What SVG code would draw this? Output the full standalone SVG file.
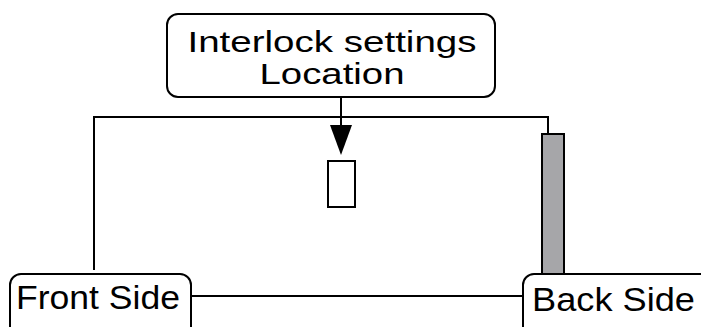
<svg xmlns="http://www.w3.org/2000/svg" width="701" height="327" viewBox="0 0 701 327">
<style>
.box{fill:#fff;stroke:#000;stroke-width:2}
.ln{fill:none;stroke:#000;stroke-width:2}
.t{font-family:"Liberation Sans","Noto Sans",sans-serif;font-size:33px;fill:#000}
.t2{font-family:"Liberation Sans","Noto Sans",sans-serif;font-size:29px;fill:#000}
</style>
<rect width="701" height="327" fill="#fff"/>
<g id="connectors">
<path class="ln" d="M94,270 V117 H548 V135"/>
<path class="ln" d="M191,296 H523"/>
<line x1="341" y1="97" x2="341" y2="125" class="ln"/>
<path d="M330,125 L352,125 L341,155 Z" fill="#000"/>
</g>
<g id="back-bar">
<rect x="542" y="134" width="22" height="140" fill="#a6a6a9" stroke="#000" stroke-width="2"/>
</g>
<g id="interlock-marker">
<rect x="328" y="161" width="27" height="46" class="box"/>
</g>
<g id="interlock-settings">
<rect x="167" y="14" width="328" height="83" rx="11" class="box"/>
<text class="t2" x="332" y="52" text-anchor="middle" textLength="289" lengthAdjust="spacingAndGlyphs">Interlock settings</text>
<text class="t2" x="332" y="84" text-anchor="middle" textLength="145" lengthAdjust="spacingAndGlyphs">Location</text>
</g>
<g id="front-side">
<rect x="10" y="274" width="181" height="70" rx="11" class="box"/>
<text class="t" x="16" y="309" textLength="164" lengthAdjust="spacingAndGlyphs">Front Side</text>
</g>
<g id="back-side">
<rect x="523" y="274" width="190" height="70" rx="11" class="box"/>
<text class="t" x="532" y="311" textLength="163" lengthAdjust="spacingAndGlyphs">Back Side</text>
</g>
</svg>
